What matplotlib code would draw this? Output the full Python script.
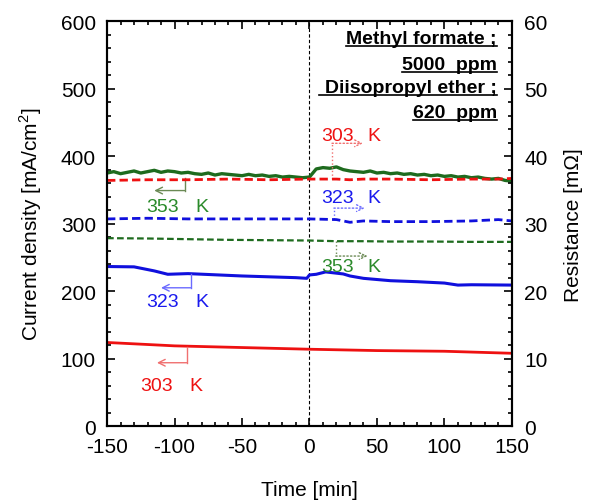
import numpy as np
import matplotlib
matplotlib.use('Agg')
import matplotlib.pyplot as plt
from matplotlib.lines import Line2D

plt.rcParams['font.family'] = ['Liberation Sans', 'DejaVu Sans']
plt.rcParams['mathtext.fontset'] = 'custom'
plt.rcParams['mathtext.rm'] = 'Liberation Sans'
plt.rcParams['axes.unicode_minus'] = False

# time axis [min]
t5 = np.arange(-150, 151, 5)

# 353 K current density (noisy trace), every 5 min
cur_353 = [375, 377, 374, 376, 378, 375, 377, 379, 376, 378, 377, 375,
           376, 374, 373, 375, 372, 374, 373, 372, 371, 373, 371, 372,
           370, 371, 369, 370, 369, 368, 369, 381, 383, 382, 384, 380,
           378, 377, 376, 378, 375, 376, 374, 375, 373, 374, 372, 373,
           371, 372, 370, 371, 369, 370, 368, 369, 367, 366, 367, 364, 363]

# 323 K current density
t_323 = [-150, -130, -115, -105, -90, -50, -10, -2, 0, 5, 12, 25, 30, 40, 60, 80, 100, 110, 120, 150]
cur_323 = [236.5, 236, 230, 225, 226, 222.5, 220, 219, 224, 225, 228.5, 225.5, 222.5, 219, 215.5, 214, 212, 209, 209.5, 209]

# 303 K current density
t_303 = [-150, -100, -50, 0, 50, 100, 150]
cur_303 = [124, 119, 116.5, 114, 112, 111, 108]

# resistances [mOhm]
t_r = [-150, -120, -90, -60, -30, 0, 20, 30, 40, 60, 90, 120, 140, 150]
res_303 = [36.4, 36.5, 36.5, 36.6, 36.5, 36.6, 36.6, 36.5, 36.6, 36.6, 36.5, 36.6, 36.6, 36.7]
res_323 = [30.7, 30.8, 30.7, 30.7, 30.7, 30.7, 30.6, 30.2, 30.4, 30.3, 30.3, 30.4, 30.6, 30.4]
res_353 = [27.85, 27.8, 27.7, 27.6, 27.55, 27.5, 27.4, 27.4, 27.4, 27.35, 27.35, 27.3, 27.3, 27.3]

fig = plt.figure(figsize=(5.98, 5.02), dpi=100)
ax = fig.add_axes([0.179, 0.149, 0.677, 0.807])
ax2 = ax.twinx()

ax.axvline(0, color='k', lw=0.8, ls=(0, (3, 2)), zorder=1)

ax.plot(t5, cur_353, color='#1e6b1e', lw=2.4)
ax.plot(t_323, cur_323, color='#1010dd', lw=2.2)
ax.plot(t_303, cur_303, color='#ee1111', lw=2.0)
ax2.plot(t_r, res_303, color='#ee1111', lw=2.0, ls=(0, (3, 1.5)))
ax2.plot(t_r, res_323, color='#1010dd', lw=2.0, ls=(0, (3, 1.5)))
ax2.plot(t_r, res_353, color='#1e6b1e', lw=1.6, ls=(0, (3, 1.5)))

ax.set_xlim(-150, 150)
ax.set_ylim(0, 600)
ax2.set_ylim(0, 60)
ax.set_xticks(np.arange(-150, 151, 50))
ax.set_xticks(np.arange(-150, 151, 10), minor=True)
ax.set_yticks(np.arange(0, 601, 100))
ax.set_yticks(np.arange(0, 601, 20), minor=True)
ax2.set_yticks(np.arange(0, 61, 10))
ax2.set_yticks(np.arange(0, 61, 2), minor=True)

ax.tick_params(which='both', direction='in', top=True, right=False, labelsize=15, width=1.2)
ax.tick_params(which='major', length=6)
ax.tick_params(which='minor', length=3)
ax.tick_params(axis='y', pad=8)
ax.tick_params(axis='x', pad=8)
ax2.tick_params(which='both', direction='in', labelsize=15, width=1.2, pad=9)
ax2.tick_params(which='major', length=6)
ax2.tick_params(which='minor', length=3)
for a in (ax, ax2):
    for s in a.spines.values():
        s.set_linewidth(1.5)

ax.set_xlabel('Time [min]', fontsize=15, labelpad=17)
ax.set_ylabel('Current density [mA/cm$^2$]', fontsize=15, labelpad=12)
ax2.set_ylabel('Resistance [m\u03a9]', fontsize=15, labelpad=12)


def elbow(x0, y0, y1, x1, color, ls):
    ax.plot([x0, x0], [y0, y1], color=color, lw=1.0, ls=ls)
    ax.annotate('', xy=(x1, y1), xytext=(x0, y1),
                arrowprops=dict(arrowstyle='->', color=color, lw=1.0, ls=ls,
                                shrinkA=0, shrinkB=0, mutation_scale=12))


def label(xn, xk, y, num, color):
    ax.text(xn, y, num, color=color, fontsize=14, ha='center', va='center')
    ax.text(xk, y, 'K', color=color, fontsize=14, ha='center', va='center')


# solid-line labels (current density)
elbow(-92.5, 367, 349, -115, '#6b8a55', '-')
label(-108.9, -80, 326, '353', '#2a8a2a')
elbow(-88, 225, 205, -110, '#6b6bff', '-')
label(-108.9, -80, 184, '323', '#1a1aee')
elbow(-91, 117, 94, -113, '#f07070', '-')
label(-113.3, -84, 60, '303', '#ee1111')

# dashed-line labels (resistance)
elbow(16.7, 366, 419, 39.6, '#f07070', ':')
label(20.7, 47.8, 430, '303', '#ee1111')
elbow(18.1, 307, 323, 41, '#6b6bff', ':')
label(20.7, 47.8, 339, '323', '#1a1aee')
elbow(19.5, 274, 252, 43, '#6b8a55', ':')
label(20.7, 47.8, 236, '353', '#2a8a2a')

# condition box text, bold and underlined
lines_txt = ['Methyl formate ;', '5000  ppm', 'Diisopropyl ether ;', '620  ppm']
ys = [0.956, 0.894, 0.835, 0.775]
texts = []
for s, y in zip(lines_txt, ys):
    texts.append(ax.text(0.963, y, s, transform=ax.transAxes, ha='right', va='center',
                         fontsize=14, fontweight='bold'))

fig.canvas.draw()
r = fig.canvas.get_renderer()
inv = fig.transFigure.inverted()
for i, tx in enumerate(texts):
    bb = tx.get_window_extent(r)
    (x0, y0), (x1, y1) = inv.transform([(bb.x0, bb.y0), (bb.x1, bb.y1)])
    yl = y0 + 0.002
    if i == 2:
        x0 -= 0.01
    fig.add_artist(Line2D([x0, x1], [yl, yl], color='k', lw=1.2, transform=fig.transFigure))

fig.savefig('out.png', dpi=100)
